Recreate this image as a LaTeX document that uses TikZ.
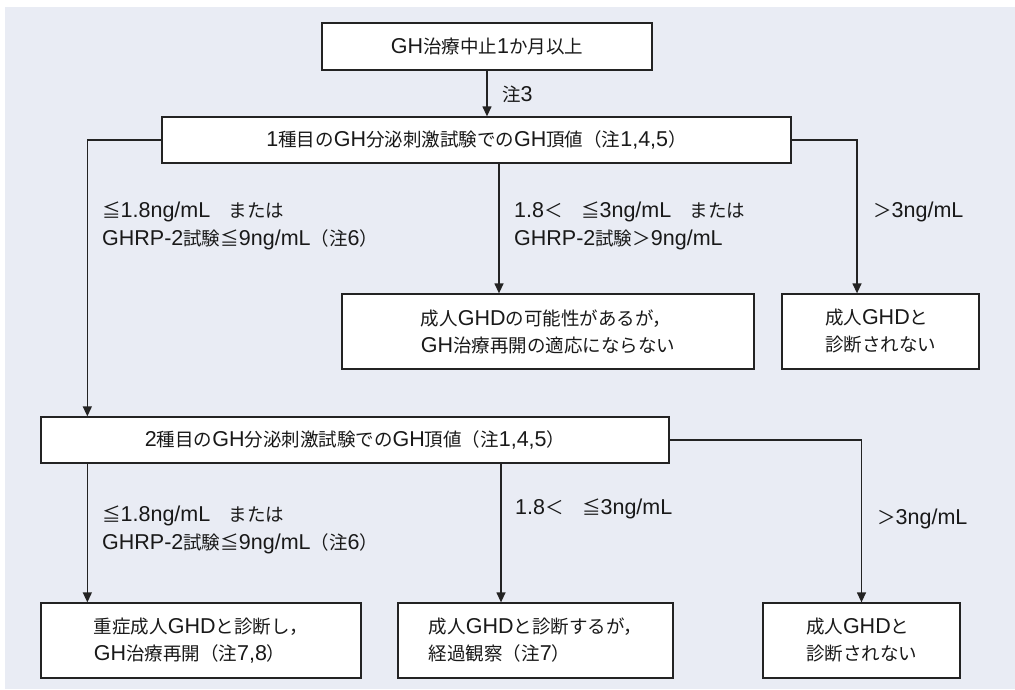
\documentclass[tikz,border=0pt]{standalone}
\usepackage{fontspec}
\newfontfamily\jp{Noto Sans CJK JP}
\newfontfamily\latf{Liberation Sans}
\newcommand\ltn[1]{{\latf\fontsize{21.5}{27}\selectfont #1}}
\usetikzlibrary{arrows.meta}
\definecolor{bgc}{RGB}{233,236,244}
\definecolor{ln}{RGB}{35,35,35}
\definecolor{tx}{RGB}{25,25,25}
\begin{document}
\begin{tikzpicture}[x=1pt,y=-1pt,
  box/.style={draw=ln,line width=1.3pt,fill=white,inner sep=0pt,align=left,
    font=\jp\fontsize{18.5}{27}\selectfont,text=tx},
  lbl/.style={inner sep=0pt,align=left,anchor=west,font=\jp\fontsize{18.5}{28}\selectfont,text=tx},
  arr/.style={draw=ln,line width=1.3pt,-{Triangle[length=10pt,width=9pt]}},
  conn/.style={draw=ln,line width=1.3pt}]
\useasboundingbox (0,0) rectangle (1015,689);
\fill[white] (0,0) rectangle (1015,689);
\fill[bgc] (5,7) rectangle (1015,689);
% boxes
\node[box,minimum width=330pt,minimum height=47pt] (b1) at (487,46.5) {\ltn{GH}治療中止\ltn{1}か月以上};
\node[box,minimum width=629pt,minimum height=46pt] (b2) at (476.5,140) {\ltn{1}種目の\ltn{GH}分泌刺激試験での\ltn{GH}頂値（注\ltn{1,4,5}）};
\node[box,minimum width=412pt,minimum height=75pt] (b3) at (548,331.5) {成人\ltn{GHD}の可能性があるが，\\\ltn{GH}治療再開の適応にならない};
\node[box,minimum width=197pt,minimum height=75pt] (b3r) at (880.5,331.5) {成人\ltn{GHD}と\\診断されない};
\node[box,minimum width=628pt,minimum height=46pt] (b4) at (355,440) {\ltn{2}種目の\ltn{GH}分泌刺激試験での\ltn{GH}頂値（注\ltn{1,4,5}）};
\node[box,minimum width=320pt,minimum height=75pt] (b5) at (201,640.5) {重症成人\ltn{GHD}と診断し，\\\ltn{GH}治療再開（注\ltn{7,8}）};
\node[box,minimum width=275pt,minimum height=75pt] (b6) at (535.5,640.5) {成人\ltn{GHD}と診断するが，\\経過観察（注\ltn{7}）};
\node[box,minimum width=197pt,minimum height=75pt] (b7) at (861.5,640.5) {成人\ltn{GHD}と\\診断されない};
% connectors
\draw[arr] (b1.south) -- (b1.south |- b2.north);
\draw[arr] (b2.west) -| ([xshift=47pt]b4.north west);
\draw[arr] ([xshift=22.5pt]b2.south) -- ([xshift=22.5pt]b2.south |- b3.north);
\draw[arr] (b2.east) -| ([xshift=-23.5pt]b3r.north);
\draw[arr] ([xshift=47pt]b4.south west) -- ([xshift=47pt]b5.north west);
\draw[arr] ([xshift=146pt]b4.south) -- ([xshift=146pt]b4.south |- b6.north);
\draw[arr] (b4.east) -| (b7.north);
% labels
\node[lbl] (l0) at (502,94) {注\ltn{3}};
\node[lbl] (l1) at (102,226) {≦\ltn{1.8ng/mL}　または\\\ltn{GHRP-2}試験≦\ltn{9ng/mL}（注\ltn{6}）};
\node[lbl] (l2) at (514,226) {\ltn{1.8}＜　≦\ltn{3ng/mL}　または\\\ltn{GHRP-2}試験＞\ltn{9ng/mL}};
\node[lbl] (l3) at (873,212) {＞\ltn{3ng/mL}};
\node[lbl] (l4) at (102,530) {≦\ltn{1.8ng/mL}　または\\\ltn{GHRP-2}試験≦\ltn{9ng/mL}（注\ltn{6}）};
\node[lbl] (l5) at (515,509) {\ltn{1.8}＜　≦\ltn{3ng/mL}};
\node[lbl] (l6) at (877,519) {＞\ltn{3ng/mL}};
\end{tikzpicture}
\end{document}
